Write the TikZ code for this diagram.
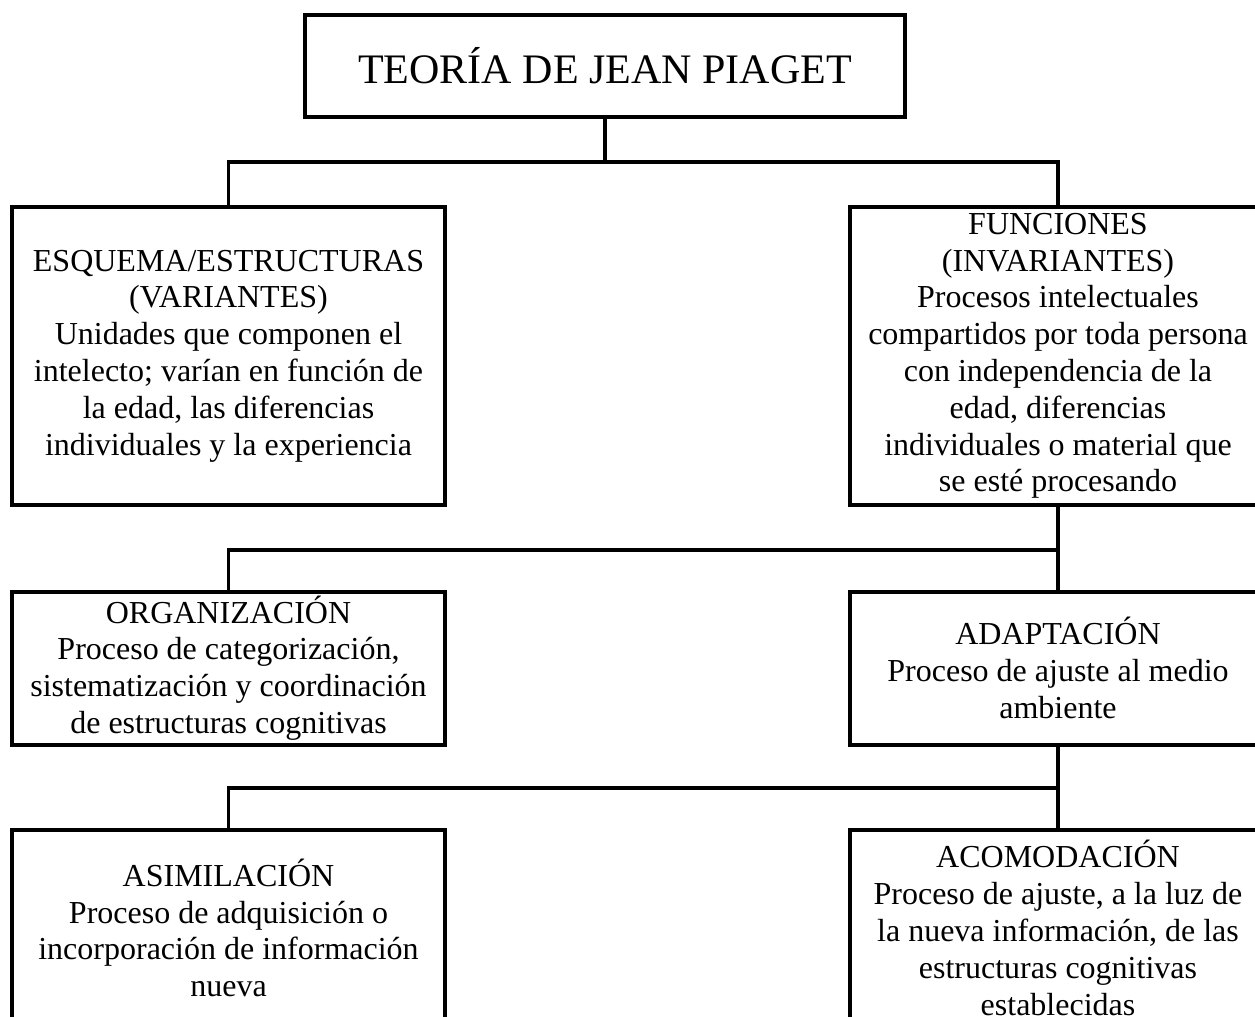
\documentclass[tikz,border=0pt]{standalone}
\usepackage{fontspec}
\setmainfont{Liberation Serif}
\usepackage{tikz}
\usetikzlibrary{positioning}

\begin{document}
\begin{tikzpicture}[
          x=0.5pt,y=-0.5pt,
          caja/.style={draw,line width=2pt,align=center,inner sep=2pt,
            font=\fontsize{16}{18.4}\selectfont},
          izq/.style={caja,minimum width=216.5pt},
          der/.style={caja,minimum width=208pt},
          enlace/.style={draw,line width=1.7pt}
            ]
            \useasboundingbox (0,0) rectangle (1255,1017);
            \clip (0,0) rectangle (1255,1017);
            % titulo
            \node[caja,minimum width=300pt,minimum height=51pt,
              font=\fontsize{21}{25}\selectfont] (teoria) at (605,66) {TEORÍA DE JEAN PIAGET};
            % primer nivel
            \node[izq,minimum height=149pt] (esquema) at (228.5,356) {ESQUEMA/ESTRUCTURAS\\(VARIANTES)\\Unidades que componen el\\intelecto; varían en función de\\la edad, las diferencias\\individuales y la experiencia};
            \node[der,minimum height=149pt] (funciones) at (1058,356) {FUNCIONES\\(INVARIANTES)\\Procesos intelectuales\\compartidos por toda persona\\con independencia de la\\edad, diferencias\\individuales o material que\\se esté procesando};
            % segundo nivel
            \node[izq,minimum height=76.5pt] (organizacion) at (228.5,668) {ORGANIZACIÓN\\Proceso de categorización,\\sistematización y coordinación\\de estructuras cognitivas};
            \node[der,minimum height=76.5pt] (adaptacion) at (1058,668) {ADAPTACIÓN\\Proceso de ajuste al medio\\ambiente};
            % tercer nivel
            \node[izq,minimum height=98pt] (asimilacion) at (228.5,928) {ASIMILACIÓN\\Proceso de adquisición o\\incorporación de información\\nueva};
            \node[der,minimum height=98pt] (acomodacion) at (1058,928) {ACOMODACIÓN\\Proceso de ajuste, a la luz de\\la nueva información, de las\\estructuras cognitivas\\establecidas};
            % uniones
            \coordinate (r1) at (0,162);
            \coordinate (r2) at (0,550);
            \coordinate (r3) at (0,788);
            \path[enlace] (teoria.south) -- (teoria.south |- r1)
            (esquema.north) |- (funciones.north |- r1) -- (funciones.north)
            (funciones.south) -- (adaptacion.north)
            (funciones.south |- r2) -| (organizacion.north)
            (adaptacion.south) -- (acomodacion.north)
            (adaptacion.south |- r3) -| (asimilacion.north);
            \end{tikzpicture}
\end{document}
